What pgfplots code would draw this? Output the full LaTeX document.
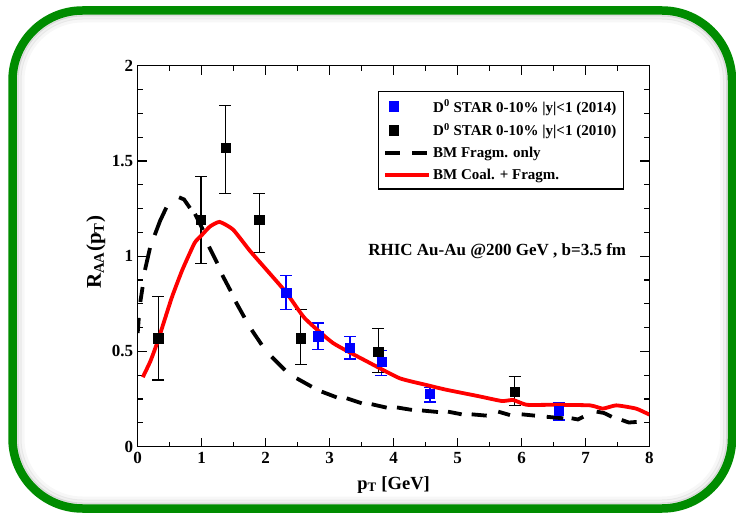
\documentclass[border=0pt]{standalone}
\usepackage{pgfplots}
\pgfplotsset{compat=1.18}
\usepackage{fontspec}
\setmainfont{Liberation Serif}
\definecolor{framegreen}{RGB}{0,140,0}
\definecolor{starblue}{RGB}{0,0,255}
\definecolor{bmred}{RGB}{255,0,0}

\pgfplotsset{
  longline legend/.style={legend image code/.code={\draw[##1] (0pt,0pt) -- (44pt,0pt);}},
  dashline legend/.style={legend image code/.code={\draw[##1,dash pattern=on 15pt off 12pt] (0pt,0pt) -- (44pt,0pt);}},
  frag/.style={black, line width=3.8pt, line cap=butt, forget plot},
}
% one dash of the fragmentation-only curve
\newcommand\fragdash[1]{\addplot[frag] coordinates {#1};}

\pgfplotstableread{
x    y     ep    em
2.32 0.81  0.09  0.09
2.82 0.58  0.07  0.07
3.32 0.52  0.06  0.06
3.81 0.445 0.06  0.07
4.57 0.28  0.03  0.045
6.58 0.19  0.04  0.05
}\starnew

\pgfplotstableread{
x    y     ep    em
0.32 0.57  0.22  0.22
0.99 1.19  0.23  0.23
1.37 1.57  0.22  0.24
1.90 1.19  0.14  0.17
2.55 0.57  0.15  0.14
3.76 0.50  0.12  0.11
5.89 0.29  0.08  0.075
}\starold

\begin{document}
\begin{tikzpicture}[x=1pt,y=1pt]
\useasboundingbox (0,0) rectangle (736,512);
% soft inner shading along the frame
\foreach \d/\o in {4/0.10,7/0.06,10/0.03}{
  \draw[black,opacity=\o,line width=4pt,rounded corners=70pt-\d pt]
    (12.5+\d,3.5+\d) rectangle (732-\d,501.5-\d);
}
\begin{axis}[
  at={(137.7pt,65.3pt)}, anchor=south west,
  scale only axis, width=511.8pt, height=381pt,
  xmin=0, xmax=8, ymin=0, ymax=2,
  xtick={0,1,...,8}, minor x tick num=1,
  ytick={0,0.5,1,1.5,2}, minor y tick num=3,
  yticklabels={0,0.5,1,1.5,2},
  tick align=inside, tick pos=both,
  major tick length=9pt, minor tick length=5pt,
  axis line style={line width=1.3pt},
  every tick/.style={black,line width=1.2pt},
  /pgf/number format/assume math mode=true,
  ticklabel style={font=\bfseries\fontsize{17}{17}\selectfont},
  xticklabel style={yshift=-2pt},
  yticklabel style={xshift=-1pt},
  xlabel={p\textsubscript{T} [GeV]},
  ylabel={R\textsubscript{AA}(p\textsubscript{T})},
  every axis x label/.style={at={(axis description cs:0.5,-0.1)},anchor=center,
    font=\bfseries\fontsize{18.5}{18.5}\selectfont},
  every axis y label/.style={at={(axis description cs:-0.082,0.51)},rotate=90,anchor=center,
    font=\bfseries\fontsize{21}{21}\selectfont},
  legend style={at={(axis description cs:0.950,0.933)}, anchor=north east,
    draw=black, line width=1.2pt, font=\bfseries\fontsize{15}{17}\selectfont,
    inner xsep=5pt, inner ysep=6pt, row sep=6pt},
  legend cell align=left,
]
\addplot[only marks, mark=square*, mark size=4.6pt, color=starblue,
  error bars/.cd, y dir=both, y explicit,
  error bar style={line width=1.3pt},
  error mark options={rotate=90, mark size=6pt, line width=1.3pt},
  ]
  table[x=x, y=y, y error plus=ep, y error minus=em] {\starnew};
\addlegendentry{D\textsuperscript{0} STAR 0-10\% |y|<1 (2014)}

\addplot[only marks, mark=square*, mark size=4.6pt, color=black,
  error bars/.cd, y dir=both, y explicit,
  error bar style={line width=1.3pt},
  error mark options={rotate=90, mark size=6pt, line width=1.3pt},
  ]
  table[x=x, y=y, y error plus=ep, y error minus=em] {\starold};
\addlegendentry{D\textsuperscript{0} STAR 0-10\% |y|<1 (2010)}

% fragmentation only, drawn dash by dash
\fragdash{(0.000,0.597) (0.017,0.676)}
\fragdash{(0.041,0.760) (0.077,0.838)}
\fragdash{(0.114,0.928) (0.192,1.043)}
\fragdash{(0.266,1.111) (0.349,1.185) (0.447,1.255)}
\fragdash{(0.646,1.309) (0.724,1.298) (0.817,1.253)}
\fragdash{(0.896,1.222) (1.021,1.138)}
\fragdash{(1.114,1.050) (1.244,0.963)}
\fragdash{(1.322,0.901) (1.454,0.817)}
\fragdash{(1.532,0.761) (1.669,0.678)}
\fragdash{(1.782,0.613) (1.938,0.535)}
\fragdash{(2.094,0.472) (2.302,0.402)}
\fragdash{(2.485,0.359) (2.720,0.315)}
\fragdash{(2.876,0.289) (3.110,0.259)}
\fragdash{(3.267,0.254) (3.501,0.228)}
\fragdash{(3.657,0.223) (3.892,0.205)}
\fragdash{(4.053,0.206) (4.287,0.193)}
\fragdash{(4.444,0.190) (4.694,0.182)}
\fragdash{(4.850,0.184) (5.064,0.170)}
\fragdash{(5.220,0.170) (5.455,0.163)}
\fragdash{(5.636,0.184) (5.819,0.166)}
\fragdash{(6.002,0.170) (6.210,0.163)}
\fragdash{(6.393,0.157) (6.652,0.149)}
\fragdash{(6.783,0.149) (6.882,0.143) (6.965,0.157)}
\fragdash{(7.174,0.184) (7.288,0.177) (7.409,0.157)}
\fragdash{(7.565,0.140) (7.679,0.127) (7.799,0.130)}
\addlegendimage{black, line width=3.8pt, line cap=butt, dashline legend}
\addlegendentry{BM Fragm. only}

% coalescence + fragmentation
\addplot[bmred, line width=3.8pt, smooth, tension=0.3, longline legend]
  coordinates {
  (0.08,0.365) (0.20,0.45) (0.32,0.56) (0.53,0.78) (0.70,0.93) (0.89,1.07)
  (1.00,1.11) (1.13,1.156) (1.28,1.18) (1.49,1.14) (1.75,1.03) (2.01,0.93)
  (2.32,0.81) (2.61,0.675) (3.05,0.545) (3.57,0.45) (4.09,0.36) (4.50,0.325)
  (4.81,0.300) (5.33,0.265) (5.69,0.240) (5.87,0.245) (6.08,0.220) (6.49,0.220)
  (7.07,0.217) (7.27,0.200) (7.48,0.217) (7.79,0.200) (8.00,0.168)
  };
\addlegendentry{BM Coal. + Fragm.}

\node[font=\bfseries\fontsize{17}{19}\selectfont] at (axis cs:5.62,1.025)
  {RHIC Au-Au @200 GeV , b=3.5 fm};
\end{axis}
% rounded frame
\draw[framegreen, line width=8.5pt, rounded corners=70pt]
  (12.5,3.5) rectangle (732,501.5);
\end{tikzpicture}
\end{document}
